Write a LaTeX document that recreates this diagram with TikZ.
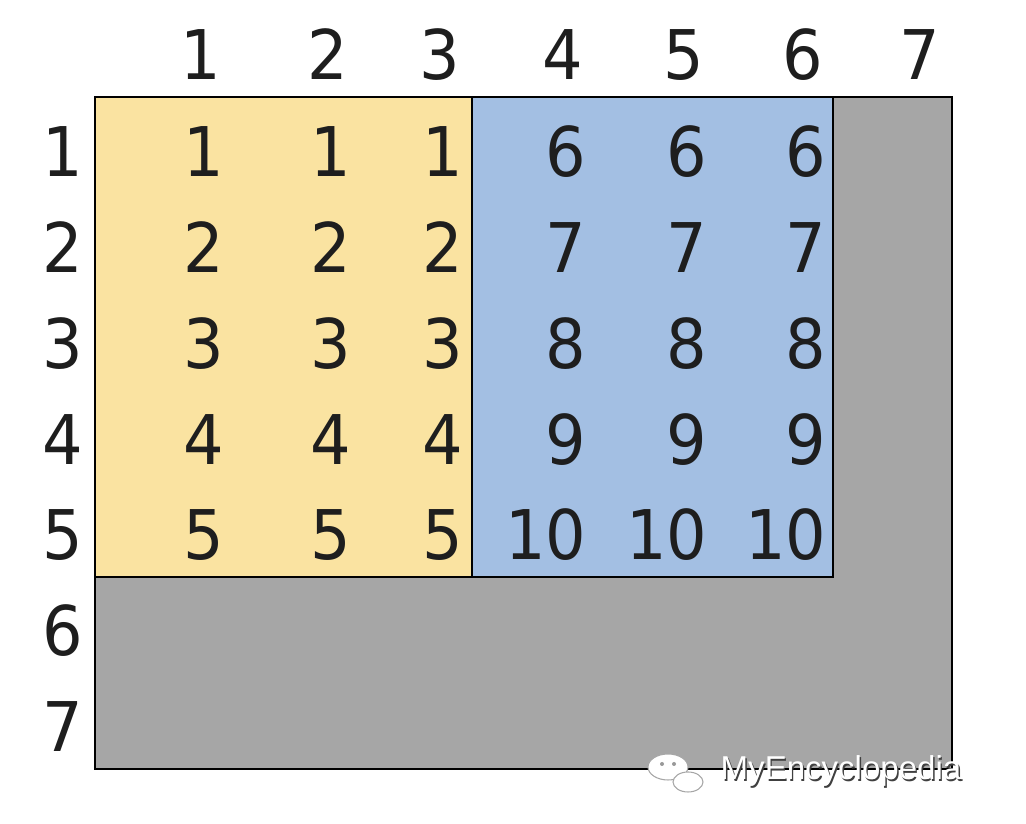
\documentclass[tikz,border=0pt]{standalone}
\usepackage{fontspec}
\setmainfont{DejaVu Sans}[FakeStretch=0.93]
\newfontfamily\markfont{Liberation Sans}
\definecolor{cellyellow}{HTML}{FAE3A1}
\definecolor{cellblue}{HTML}{A3BFE3}
\definecolor{padgray}{HTML}{A6A6A6}
\definecolor{numink}{HTML}{1E1E1E}
\tikzset{
    num/.style={anchor=base east, inner sep=0pt, xshift=1pt, text=numink, font=\fontsize{19.5}{22}\selectfont},
    box/.style={draw=black, line width=0.8pt},
    marktext/.style={anchor=base west, inner sep=0pt, font=\markfont\fontsize{9.4}{10}\selectfont},
}
\begin{document}
\begin{tikzpicture}
    \useasboundingbox (0, 0) rectangle (10.26, 8.24);
        \filldraw[box, fill=padgray] (0.95, 0.55) rectangle (9.52, 7.27);
        \filldraw[box, fill=cellyellow] (0.95, 2.47) rectangle (4.72, 7.27);
        \filldraw[box, fill=cellblue] (4.72, 2.47) rectangle (8.33, 7.27);
    % column and row numbers
    \foreach \c/\x in {1/2.18, 2/3.45, 3/4.57, 4/5.80, 5/7.01, 6/8.20, 7/9.37}
        \node[num] (col\c) at (\x, 7.44) {\c};
    \foreach \r in {1,...,7}
        \node[num] (row\r) at (0.80, {6.47-(\r-1)*0.9575}) {\r};
    % cells
    \foreach \r in {1,...,5}{
        \foreach \c in {1, 2, 3}
            \node[num] (cell\r\c) at (col\c.base east |- row\r.base) {\r};
        \pgfmathtruncatemacro\v{\r+5}
        \foreach \c in {4, 5, 6}
            \node[num] (cell\r\c) at (col\c.base east |- row\r.base) {\v};
    }
    % watermark
        \filldraw[white, draw=gray!70, line width=0.3pt] (6.68, 0.57) ellipse (0.2 and 0.13);
        \filldraw[white, draw=gray!70, line width=0.3pt] (6.88, 0.42) ellipse (0.15 and 0.1);
        \fill[gray!80] (6.62, 0.60) circle (0.02) (6.74, 0.60) circle (0.02);
    \node[marktext, text=black!75] (markshade) at ([xshift=0.4pt, yshift=-0.4pt]7.20, 0.44) {MyEncyclopedia};
    \node[marktext, text=white] (markname) at (7.20, 0.44) {MyEncyclopedia};
\end{tikzpicture}
\end{document}
